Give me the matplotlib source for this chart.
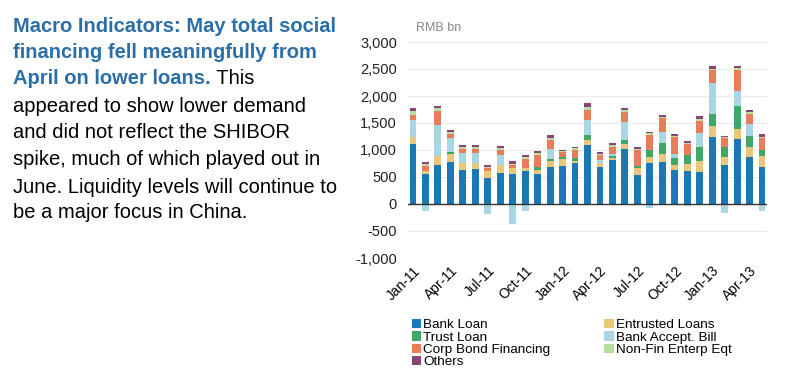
import matplotlib
matplotlib.use("Agg")
import matplotlib.pyplot as plt
import numpy as np

plt.rcParams['font.family'] = ['Liberation Sans', 'DejaVu Sans']

months = ['Jan-11', 'Feb-11', 'Mar-11', 'Apr-11', 'May-11', 'Jun-11', 'Jul-11', 'Aug-11',
          'Sep-11', 'Oct-11', 'Nov-11', 'Dec-11', 'Jan-12', 'Feb-12', 'Mar-12', 'Apr-12',
          'May-12', 'Jun-12', 'Jul-12', 'Aug-12', 'Sep-12', 'Oct-12', 'Nov-12', 'Dec-12',
          'Jan-13', 'Feb-13', 'Mar-13', 'Apr-13', 'May-13']

# RMB bn
bank_loan = [1105, 556, 722, 784, 630, 648, 488, 580, 556, 611, 556, 679, 710, 753, 1093,
             691, 815, 1019, 537, 765, 784, 630, 617, 599, 1247, 722, 1204, 864, 691]
entrusted = [142, 56, 167, 136, 123, 117, 123, 142, 105, 62, 74, 117, 123, 43, 93,
             62, 31, 86, 123, 111, 142, 93, 117, 198, 204, 154, 179, 198, 198]
trust = [0, 0, 0, 49, 0, 0, 0, 0, 0, 0, 62, 37, 43, 49, 93,
         0, 49, 80, 43, 123, 198, 136, 173, 265, 210, 173, 432, 198, 111]
bank_accept = [309, -130, 574, 247, 185, 173, -191, 185, -370, -130, 0, 185, -15, -12, 278,
               62, 31, 327, 0, -75, 216, 62, -30, 259, 586, -165, 284, 222, -123]
corp_bond = [93, 99, 259, 74, 80, 74, 49, 93, 62, 160, 216, 167, 80, 154, 185,
             93, 136, 185, 296, 278, 247, 327, 198, 222, 235, 167, 383, 185, 216]
nonfin_eqt = [80, 31, 49, 49, 31, 37, 25, 31, 20, 31, 31, 43, 25, 31, 62,
              25, 31, 37, 19, 31, 25, 19, 25, 25, 19, 19, 31, 31, 31]
others = [43, 31, 43, 37, 43, 43, 37, 49, 45, 43, 43, 50, 25, 31, 62,
          25, 43, 49, 43, 31, 37, 31, 43, 62, 55, 25, 49, 43, 49]

series = [('Bank Loan', bank_loan, '#1b78b5'),
          ('Trust Loan', trust, '#3fa767'),
          ('Corp Bond Financing', corp_bond, '#e87d5c'),
          ('Others', others, '#8a4577'),
          ('Entrusted Loans', entrusted, '#e9c77a'),
          ('Bank Accept. Bill', bank_accept, '#a9d6e4'),
          ('Non-Fin Enterp Eqt', nonfin_eqt, '#b6dea0')]
stack_order = ['Bank Loan', 'Entrusted Loans', 'Trust Loan', 'Bank Accept. Bill',
               'Corp Bond Financing', 'Non-Fin Enterp Eqt', 'Others']

fig = plt.figure(figsize=(7.86, 3.87), dpi=100)
ax = fig.add_axes([408 / 786, 1 - 258 / 387, 359 / 786, 216 / 387])

x = np.arange(len(months))
width = 0.55
lookup = {name: (vals, col) for name, vals, col in series}
handles = {}
bottom_pos = np.zeros(len(months))
for name in stack_order:
    vals, col = lookup[name]
    v = np.array(vals, dtype=float)
    pos = np.clip(v, 0, None)
    neg = np.clip(v, None, 0)
    h = ax.bar(x, pos, width, bottom=bottom_pos, color=col, linewidth=0)
    if neg.any():
        ax.bar(x, neg, width, color=col, linewidth=0)
    bottom_pos += pos
    handles[name] = h

ax.set_ylim(-1000, 3000)
ax.set_xlim(-0.4, len(months) - 0.6)
ax.set_yticks(np.arange(-1000, 3001, 500))
ax.set_yticklabels([f'{v:,}' for v in range(-1000, 3001, 500)])
ax.yaxis.grid(True, color='#ececec', linewidth=0.8)
ax.set_axisbelow(True)
ax.axhline(0, color='#333333', linewidth=1.0, zorder=3)
for s in ax.spines.values():
    s.set_visible(False)
ax.tick_params(axis='y', length=0, labelsize=10.5, pad=8, colors='#222222')
ax.set_xticks(x[::3])
ax.set_xticklabels(months[::3], rotation=45, ha='right', rotation_mode='anchor', fontsize=10)
ax.tick_params(axis='x', length=0, pad=4)

fig.text(416 / 786, 1 - 28 / 387, 'RMB bn', fontsize=9, color='#888888', va='center')

leg = fig.legend([handles[n] for n, _, _ in series], [n for n, _, _ in series],
                 loc='upper left', bbox_to_anchor=(405 / 786, 1 - 312 / 387), ncol=2,
                 frameon=False, fontsize=9.7, handlelength=0.7, handleheight=0.7,
                 handletextpad=0.15, labelspacing=0.0, columnspacing=4.0, borderpad=0)

# left text panel
blue = '#2b6ea8'
fs = 14.5
lines_y = [26, 53, 79, 106, 133, 160, 187, 213]
tx = 13 / 786
fig.text(tx, 1 - lines_y[0] / 387, 'Macro Indicators: May total social', fontsize=fs,
         fontweight='bold', color=blue, va='center')
fig.text(tx, 1 - lines_y[1] / 387, 'financing fell meaningfully from', fontsize=fs,
         fontweight='bold', color=blue, va='center')
t3 = fig.text(tx, 1 - lines_y[2] / 387, 'April on lower loans.', fontsize=fs,
              fontweight='bold', color=blue, va='center')
r = fig.canvas.get_renderer()
bb = t3.get_window_extent(renderer=r)
fig.text(bb.x1 / fig.bbox.width, 1 - lines_y[2] / 387, ' This', fontsize=fs,
         color='black', va='center')
rest = ['appeared to show lower demand',
        'and did not reflect the SHIBOR',
        'spike, much of which played out in',
        'June. Liquidity levels will continue to',
        'be a major focus in China.']
for ly, s in zip(lines_y[3:], rest):
    fig.text(tx, 1 - ly / 387, s, fontsize=fs, color='black', va='center')

fig.savefig('out.png', dpi=100)
